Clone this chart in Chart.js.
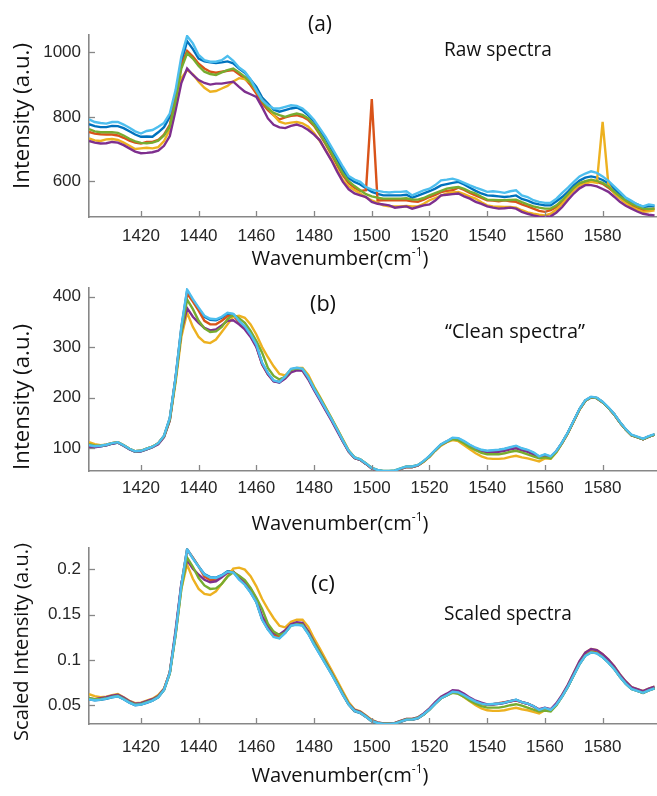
<!DOCTYPE html>
<html><head><meta charset="utf-8">
<script src="https://cdn.jsdelivr.net/npm/chart.js@4.4.0/dist/chart.umd.min.js"></script>
<style>
html,body{margin:0;padding:0;background:#fff;overflow:hidden}
#wrap{position:relative;width:657px;height:796px}
canvas{position:absolute;left:0}
</style></head><body>
<div id="wrap">
<canvas id="ca" width="657" height="270" style="top:0px"></canvas>
<canvas id="cb" width="657" height="272" style="top:270px"></canvas>
<canvas id="cc" width="657" height="266" style="top:530px"></canvas>
</div>
<script>
const wavenumbers = [1402,1404,1406,1408,1410,1412,1414,1416,1418,1420,1422,1424,1426,1428,1430,1432,1434,1436,1438,1440,1442,1444,1446,1448,1450,1452,1454,1456,1458,1460,1462,1464,1466,1468,1470,1472,1474,1476,1478,1480,1482,1484,1486,1488,1490,1492,1494,1496,1498,1500,1502,1504,1506,1508,1510,1512,1514,1516,1518,1520,1522,1524,1526,1528,1530,1532,1534,1536,1538,1540,1542,1544,1546,1548,1550,1552,1554,1556,1558,1560,1562,1564,1566,1568,1570,1572,1574,1576,1578,1580,1582,1584,1586,1588,1590,1592,1594,1596,1598];
const xTickValues = [1420,1440,1460,1480,1500,1520,1540,1560,1580];
const aYTicks = [600,800,1000];
const bYTicks = [100,200,300,400];
const cYTicks = [0.05,0.1,0.15,0.2];
const cYTickLabels = ['0.05','0.1','0.15','0.2'];
const seriesNames = ['blue','red','yellow','purple','green','lightblue'];

// Panel (a) raw spectra
const aBlue = [777,771,768,768,772,771,765,755,745,738, 739,738,752,768,800,870,970,1035,1010,981, 972,969,967,969,972,966,950,937,915,893, 860,841,822,816,821,826,829,820,805,785, 759,732,700,668,634,610,598,590,578,567, 561,556,556,556,556,558,549,555,562,569, 577,587,591,595,598,590,580,570,562,556, 555,553,551,553,556,545,540,532,528,525, 525,538,551,568,587,602,611,615,611,604, 593,576,559,545,536,528,520,522,522];
const aRed = [753,748,746,745,745,742,735,726,720,717, 722,722,728,745,775,860,960,1005,987,965, 950,940,937,940,943,945,932,919,898,872, 842,821,805,792,798,803,805,800,790,772, 745,715,683,650,618,594,580,570,572,855, 540,541,541,541,541,541,538,536,543,551, 558,566,570,572,580,573,564,556,548,541, 540,538,541,538,536,528,522,515,508,505, 510,520,536,556,577,592,598,603,598,592, 580,565,549,536,525,516,510,512,515];
const aYellow = [733,727,725,730,731,728,720,710,700,702, 704,702,706,725,760,840,920,945,932,909, 890,878,880,888,896,910,920,917,906,880, 852,831,805,785,779,782,784,780,769,750, 725,697,667,635,603,584,572,562,550,541, 533,525,522,522,522,523,522,522,530,541, 548,555,562,565,567,560,552,546,535,525, 522,521,520,520,518,510,503,499,496,494, 499,512,530,552,572,586,593,598,595,784, 590,562,546,532,520,512,505,507,510];
const aPurple = [725,720,717,718,722,720,712,702,692,687, 688,690,695,710,740,820,905,950,930,914, 905,900,903,903,906,909,893,878,870,862, 830,795,775,767,765,772,776,770,759,745, 727,695,665,630,598,575,562,556,551,536, 530,528,525,518,520,522,515,520,525,528, 540,556,558,560,562,553,546,536,530,522, 518,515,516,518,515,505,499,494,490,489, 491,503,520,542,562,578,588,588,584,576, 567,552,536,524,515,506,499,496,494];
const aGreen = [762,755,752,752,752,750,742,732,724,719, 718,720,726,742,770,850,950,997,981,958, 940,933,930,938,945,950,938,924,905,883, 850,826,812,805,800,806,810,806,795,775, 748,718,688,655,624,600,585,572,560,553, 549,546,546,546,546,547,543,543,548,556, 563,570,577,580,582,576,568,562,552,543, 542,541,541,542,543,535,528,522,518,515, 515,525,541,560,580,594,600,605,601,595, 584,568,553,540,530,522,515,514,515];
const aLightBlue = [792,784,781,779,784,784,776,766,755,748, 756,759,769,781,810,883,987,1051,1028,992, 976,971,971,976,989,974,953,940,916,883, 852,836,826,826,831,836,834,826,810,790, 764,738,707,676,645,616,605,598,582,574, 570,567,565,567,567,569,556,564,572,577, 588,603,605,608,603,595,587,580,574,567, 569,567,564,569,572,556,551,541,536,533, 533,546,564,580,598,615,624,631,626,615, 601,584,567,549,539,528,522,528,525];

// Panel (b) clean spectra
const bBlue = [105,103,104,106,109,111,105,98,93,94, 98,102,109,124,159,239,338,411,393,376, 360,354,353,358,366,365,350,339,323,303, 268,248,233,230,241,256,258,256,239,217, 197,177,157,136,114,94,81,77,69,60, 56,54,54,55,59,63,63,66,74,84, 96,107,113,120,119,113,106,100,96,94, 95,96,98,101,104,99,96,91,83,87, 83,94,111,131,154,177,194,201,199,191, 180,167,151,137,126,122,118,123,127];
const bRed = [105,104,105,107,110,112,106,99,94,95, 99,103,110,124,158,238,335,406,390,372, 352,345,345,352,361,362,350,340,322,302, 266,246,233,231,241,256,258,256,239,217, 197,177,157,136,114,94,81,77,69,60, 56,54,54,55,59,63,63,66,74,84, 96,107,113,119,118,112,105,99,95,93, 94,96,98,100,102,98,95,90,83,86, 83,94,111,131,154,177,194,201,199,191, 180,167,151,137,126,122,118,123,127];
const bYellow = [112,108,106,107,110,112,106,99,94,95, 99,103,110,123,155,230,320,368,340,320, 310,308,315,330,345,360,362,358,345,325, 300,280,262,247,244,255,259,259,245,222, 202,181,160,139,117,96,82,78,70,61, 56,54,54,55,59,63,63,66,73,83, 95,105,112,116,114,106,98,90,84,80, 79,79,80,83,85,82,80,77,74,80, 79,92,110,130,153,176,194,201,199,191, 180,167,151,137,126,122,118,123,127];
const bPurple = [103,102,104,106,109,111,105,98,93,94, 98,102,108,122,155,238,330,377,360,348, 338,333,335,343,352,353,345,335,320,300, 266,246,232,230,238,250,254,253,236,215, 195,175,155,134,113,93,81,77,69,60, 56,54,54,55,59,63,63,66,74,84, 96,107,113,120,119,113,105,99,95,92, 92,93,95,98,100,96,93,88,82,85, 82,94,111,131,154,177,194,201,199,191, 180,167,151,137,126,122,118,123,127];
const bGreen = [108,105,105,107,110,112,106,99,94,95, 99,103,110,124,157,235,330,394,375,352, 337,330,331,340,355,364,357,348,332,312, 289,259,243,236,241,255,258,257,240,220, 200,180,159,138,116,95,82,78,70,61, 57,55,55,56,60,64,64,67,74,84, 96,107,113,118,116,110,102,96,91,88, 88,88,90,93,95,92,88,84,80,82, 80,93,111,131,154,177,194,201,199,191, 180,167,151,137,126,122,118,123,127];
const bLightBlue = [106,104,105,107,110,112,106,99,94,95, 99,103,110,125,160,240,340,414,395,378, 362,356,355,360,368,366,352,341,325,305, 269,249,234,231,242,257,259,257,240,218, 198,178,158,137,115,95,82,78,70,61, 57,55,55,56,60,64,64,67,75,85, 97,108,114,121,120,114,107,101,97,95, 96,97,99,102,105,100,97,92,84,88, 84,95,112,132,155,178,195,202,200,192, 181,168,152,138,127,123,119,124,128];

// Panel (c) scaled spectra
const cBlue = [0.0567,0.0556,0.0562,0.0572,0.0589,0.0599,0.0567,0.0529,0.0502,0.0508, 0.0529,0.0551,0.0589,0.0670,0.0859,0.1291,0.1825,0.2219,0.2122,0.2030, 0.1944,0.1912,0.1906,0.1933,0.1976,0.1971,0.1890,0.1831,0.1744,0.1636, 0.1447,0.1339,0.1258,0.1242,0.1301,0.1382,0.1393,0.1382,0.1291,0.1172, 0.1064,0.0956,0.0848,0.0734,0.0616,0.0508,0.0437,0.0416,0.0373,0.0324, 0.0302,0.0292,0.0292,0.0297,0.0319,0.0340,0.0340,0.0356,0.0400,0.0454, 0.0518,0.0578,0.0610,0.0648,0.0643,0.0610,0.0572,0.0540,0.0518,0.0508, 0.0513,0.0518,0.0529,0.0545,0.0562,0.0535,0.0518,0.0491,0.0448,0.0470, 0.0448,0.0508,0.0599,0.0707,0.0832,0.0956,0.1048,0.1085,0.1075,0.1031, 0.0972,0.0902,0.0815,0.0740,0.0680,0.0659,0.0637,0.0664,0.0686];
const cRed = [0.0572,0.0567,0.0572,0.0583,0.0600,0.0610,0.0578,0.0540,0.0512,0.0518, 0.0540,0.0561,0.0600,0.0676,0.0861,0.1297,0.1826,0.2213,0.2126,0.2027, 0.1918,0.1880,0.1880,0.1918,0.1967,0.1973,0.1908,0.1853,0.1755,0.1646, 0.1450,0.1341,0.1270,0.1259,0.1313,0.1395,0.1406,0.1395,0.1303,0.1183, 0.1074,0.0965,0.0856,0.0741,0.0621,0.0512,0.0441,0.0420,0.0376,0.0327, 0.0305,0.0294,0.0294,0.0300,0.0322,0.0343,0.0343,0.0360,0.0403,0.0458, 0.0523,0.0583,0.0616,0.0649,0.0643,0.0610,0.0572,0.0540,0.0518,0.0507, 0.0512,0.0523,0.0534,0.0545,0.0556,0.0534,0.0518,0.0491,0.0452,0.0469, 0.0452,0.0512,0.0605,0.0714,0.0839,0.0965,0.1057,0.1095,0.1085,0.1041, 0.0981,0.0910,0.0823,0.0747,0.0687,0.0665,0.0643,0.0670,0.0692];
const cYellow = [0.0624,0.0602,0.0590,0.0596,0.0613,0.0624,0.0590,0.0551,0.0524,0.0529, 0.0551,0.0574,0.0613,0.0685,0.0863,0.1281,0.1782,0.2050,0.1894,0.1782, 0.1727,0.1716,0.1755,0.1838,0.1922,0.2005,0.2016,0.1994,0.1922,0.1810, 0.1671,0.1560,0.1459,0.1376,0.1359,0.1420,0.1443,0.1443,0.1365,0.1237, 0.1125,0.1008,0.0891,0.0774,0.0652,0.0535,0.0457,0.0434,0.0390,0.0340, 0.0312,0.0301,0.0301,0.0306,0.0329,0.0351,0.0351,0.0368,0.0407,0.0462, 0.0529,0.0585,0.0624,0.0646,0.0635,0.0590,0.0546,0.0501,0.0468,0.0446, 0.0440,0.0440,0.0446,0.0462,0.0473,0.0457,0.0446,0.0429,0.0412,0.0446, 0.0440,0.0512,0.0613,0.0724,0.0852,0.0980,0.1081,0.1120,0.1108,0.1064, 0.1003,0.0930,0.0841,0.0763,0.0702,0.0680,0.0657,0.0685,0.0707];
const cPurple = [0.0574,0.0568,0.0579,0.0590,0.0607,0.0618,0.0585,0.0546,0.0518,0.0524, 0.0546,0.0568,0.0602,0.0680,0.0863,0.1326,0.1838,0.2100,0.2005,0.1938, 0.1883,0.1855,0.1866,0.1911,0.1961,0.1966,0.1922,0.1866,0.1782,0.1671, 0.1482,0.1370,0.1292,0.1281,0.1326,0.1393,0.1415,0.1409,0.1315,0.1198, 0.1086,0.0975,0.0863,0.0746,0.0629,0.0518,0.0451,0.0429,0.0384,0.0334, 0.0312,0.0301,0.0301,0.0306,0.0329,0.0351,0.0351,0.0368,0.0412,0.0468, 0.0535,0.0596,0.0629,0.0668,0.0663,0.0629,0.0585,0.0551,0.0529,0.0512, 0.0512,0.0518,0.0529,0.0546,0.0557,0.0535,0.0518,0.0490,0.0457,0.0473, 0.0457,0.0524,0.0618,0.0730,0.0858,0.0986,0.1081,0.1120,0.1108,0.1064, 0.1003,0.0930,0.0841,0.0763,0.0702,0.0680,0.0657,0.0685,0.0707];
const cGreen = [0.0583,0.0567,0.0567,0.0578,0.0594,0.0605,0.0572,0.0535,0.0508,0.0513, 0.0535,0.0556,0.0594,0.0670,0.0848,0.1269,0.1782,0.2128,0.2025,0.1901, 0.1820,0.1782,0.1787,0.1836,0.1917,0.1966,0.1928,0.1879,0.1793,0.1685, 0.1561,0.1399,0.1312,0.1274,0.1301,0.1377,0.1393,0.1388,0.1296,0.1188, 0.1080,0.0972,0.0859,0.0745,0.0626,0.0513,0.0443,0.0421,0.0378,0.0329, 0.0308,0.0297,0.0297,0.0302,0.0324,0.0346,0.0346,0.0362,0.0400,0.0454, 0.0518,0.0578,0.0610,0.0637,0.0626,0.0594,0.0551,0.0518,0.0491,0.0475, 0.0475,0.0475,0.0486,0.0502,0.0513,0.0497,0.0475,0.0454,0.0432,0.0443, 0.0432,0.0502,0.0599,0.0707,0.0832,0.0956,0.1048,0.1085,0.1075,0.1031, 0.0972,0.0902,0.0815,0.0740,0.0680,0.0659,0.0637,0.0664,0.0686];
const cLightBlue = [0.0568,0.0557,0.0563,0.0574,0.0590,0.0600,0.0568,0.0531,0.0504,0.0509, 0.0531,0.0552,0.0590,0.0670,0.0858,0.1286,0.1822,0.2219,0.2117,0.2026, 0.1940,0.1908,0.1903,0.1930,0.1972,0.1962,0.1887,0.1828,0.1742,0.1635, 0.1442,0.1335,0.1254,0.1238,0.1297,0.1378,0.1388,0.1378,0.1286,0.1168, 0.1061,0.0954,0.0847,0.0734,0.0616,0.0509,0.0440,0.0418,0.0375,0.0327, 0.0306,0.0295,0.0295,0.0300,0.0322,0.0343,0.0343,0.0359,0.0402,0.0456, 0.0520,0.0579,0.0611,0.0649,0.0643,0.0611,0.0574,0.0541,0.0520,0.0509, 0.0515,0.0520,0.0531,0.0547,0.0563,0.0536,0.0520,0.0493,0.0450,0.0472, 0.0450,0.0509,0.0600,0.0708,0.0831,0.0954,0.1045,0.1083,0.1072,0.1029, 0.0970,0.0900,0.0815,0.0740,0.0681,0.0659,0.0638,0.0665,0.0686];

// ---------- styling ----------
const COLORS = {blue:'#0072BD', red:'#D95319', yellow:'#EDB120', purple:'#7E2F8E', green:'#77AC30', lightblue:'#4DBEEE'};
const AXIS = '#878787';
const TICKC = '#262626';
const LABELFONT = '"Open Sans", "Noto Sans", sans-serif';
const TICKFONT = '"Liberation Sans", Arial, sans-serif';

function fitSize(ctx, text, width, family) {
  ctx.font = '100px ' + family;
  return 100 * width / ctx.measureText(text).width;
}

const decorPlugin = {
  id: 'decor',
  afterDatasetsDraw(chart, args, opts) {
    const {ctx, chartArea: a, scales: {x, y}} = chart;
    const off = opts.offset || 0;
    ctx.save();
    ctx.strokeStyle = AXIS; ctx.lineWidth = 1.3;
    x.ticks.forEach(t => { const px = Math.round(x.getPixelForValue(t.value)) + 0.5; ctx.beginPath(); ctx.moveTo(px, a.bottom); ctx.lineTo(px, a.bottom - 6); ctx.stroke(); });
    y.ticks.forEach(t => { const py = Math.round(y.getPixelForValue(t.value)) + 0.5; ctx.beginPath(); ctx.moveTo(a.left, py); ctx.lineTo(a.left + 6, py); ctx.stroke(); });
    ctx.fillStyle = '#111';
    ctx.textBaseline = 'middle';
    ctx.textAlign = 'center';
    (opts.labels || []).forEach(l => {
      const s = fitSize(ctx, l.text, l.w, LABELFONT);
      ctx.font = s.toFixed(2) + 'px ' + LABELFONT;
      ctx.fillText(l.text, l.cx, l.cy - off);
    });
    if (opts.yTitle) {
      const t = opts.yTitle;
      const s = fitSize(ctx, t.text, t.len, LABELFONT);
      ctx.save();
      ctx.translate(t.cx, t.cy - off);
      ctx.rotate(-Math.PI / 2);
      ctx.font = s.toFixed(2) + 'px ' + LABELFONT;
      ctx.fillText(t.text, 0, 0);
      ctx.restore();
    }
    if (opts.xTitle) {
      const t = opts.xTitle;
      ctx.font = '100px ' + LABELFONT;
      const w1 = ctx.measureText('Wavenumber(cm').width;
      const w3 = ctx.measureText(')').width;
      ctx.font = '60px ' + LABELFONT;
      const w2 = ctx.measureText('-1').width;
      const s = 100 * t.w / (w1 + w2 + w3);
      const k = s / 100;
      let xs = t.cx - t.w / 2;
      const yy = t.cy - off;
      ctx.textAlign = 'left';
      ctx.font = s.toFixed(2) + 'px ' + LABELFONT;
      ctx.fillText('Wavenumber(cm', xs, yy);
      xs += w1 * k;
      ctx.font = (s * 0.6).toFixed(2) + 'px ' + LABELFONT;
      ctx.fillText('-1', xs, yy - s * 0.33);
      xs += w2 * k;
      ctx.font = s.toFixed(2) + 'px ' + LABELFONT;
      ctx.fillText(')', xs, yy);
    }
    ctx.restore();
  }
};

function build(id, ys, cfg) {
  const datasets = seriesNames.map((n, i) => ({
    data: ys[i].map((v, k) => ({x: wavenumbers[k], y: v})),
    borderColor: COLORS[n], borderWidth: 2.4, pointRadius: 0, fill: false, tension: 0,
    order: seriesNames.length - 1 - i
  }));
  new Chart(document.getElementById(id), {
    type: 'line',
    data: {datasets},
    options: {
      responsive: false, animation: false, events: [],
      layout: {padding: {top: cfg.top, left: 0, right: 1, bottom: 0}},
      plugins: {legend: {display: false}, tooltip: {enabled: false}, decor: cfg.decor},
      scales: {
        x: {
          type: 'linear', min: 1402, max: 1598.5,
          afterBuildTicks: ax => { ax.ticks = xTickValues.map(v => ({value: v})); },
          afterFit: ax => { ax.height = cfg.xh; },
          grid: {display: true, drawOnChartArea: false, drawTicks: false},
          border: {display: true, color: AXIS, width: 1.6},
          ticks: {font: {family: TICKFONT, size: 17}, color: TICKC, padding: cfg.xpad, maxRotation: 0, autoSkip: false, callback: v => String(v)}
        },
        y: {
          type: 'linear', min: cfg.ymin, max: cfg.ymax,
          afterBuildTicks: ax => { ax.ticks = cfg.yticks.map(v => ({value: v})); },
          afterFit: ax => { ax.width = 89; },
          grid: {display: true, drawOnChartArea: false, drawTicks: false},
          border: {display: true, color: AXIS, width: 1.6},
          ticks: {font: {family: TICKFONT, size: 17}, color: TICKC, padding: 8, autoSkip: false, callback: cfg.yfmt}
        }
      }
    },
    plugins: [decorPlugin]
  });
}

build('ca', [aBlue, aRed, aYellow, aPurple, aGreen, aLightBlue], {
  top: 35, xh: 53, xpad: 9.5, ymin: 489, ymax: 1054, yticks: aYTicks, yfmt: v => String(v),
  decor: {offset: 0,
    labels: [{text: '(a)', cx: 320, cy: 25, w: 24}, {text: 'Raw spectra', cx: 498, cy: 51, w: 108}],
    yTitle: {text: 'Intensity (a.u.)', cx: 23, cy: 116, len: 146},
    xTitle: {cx: 340, cy: 259, w: 177}}
});
build('cb', [bBlue, bRed, bYellow, bPurple, bGreen, bLightBlue], {
  top: 17, xh: 71, xpad: 7.5, ymin: 55, ymax: 416.5, yticks: bYTicks, yfmt: v => String(v),
  decor: {offset: 270,
    labels: [{text: '(b)', cx: 323, cy: 304.5, w: 26}, {text: '\u201CClean spectra\u201D', cx: 515, cy: 332, w: 140}],
    yTitle: {text: 'Intensity (a.u.)', cx: 23, cy: 397, len: 146},
    xTitle: {cx: 340, cy: 524, w: 177}}
});
build('cc', [cBlue, cRed, cYellow, cPurple, cGreen, cLightBlue], {
  top: 11, xh: 72, xpad: 13.5, ymin: 0.0295, ymax: 0.223, yticks: cYTicks, yfmt: v => cYTickLabels[cYTicks.indexOf(v)],
  decor: {offset: 530,
    labels: [{text: '(c)', cx: 323, cy: 585, w: 24}, {text: 'Scaled spectra', cx: 508, cy: 615, w: 128}],
    yTitle: {text: 'Scaled Intensity (a.u.)', cx: 22, cy: 642, len: 198},
    xTitle: {cx: 340, cy: 776, w: 177}}
});
</script>
</body></html>
